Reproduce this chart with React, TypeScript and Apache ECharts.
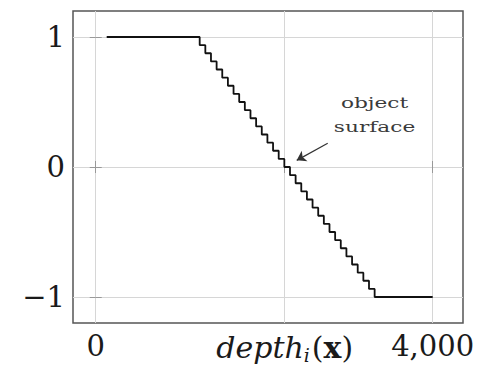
import React, { useEffect, useRef } from "react";
import * as echarts from "echarts";

// depth values (x) at which the truncated SDF steps down, plus start/end
const depthX = [
  130, 1234, 1301, 1368, 1435, 1502, 1569, 1636, 1703, 1770, 1837, 1904, 1971,
  2038, 2105, 2172, 2239, 2306, 2373, 2440, 2507, 2574, 2641, 2708, 2775, 2842,
  2909, 2976, 3043, 3110, 3177, 3244, 3311, 4000,
];
const sdfY = [
  1, 0.9375, 0.875, 0.8125, 0.75, 0.6875, 0.625, 0.5625, 0.5, 0.4375, 0.375,
  0.3125, 0.25, 0.1875, 0.125, 0.0625, 0, -0.0625, -0.125, -0.1875, -0.25,
  -0.3125, -0.375, -0.4375, -0.5, -0.5625, -0.625, -0.6875, -0.75, -0.8125,
  -0.875, -0.9375, -1, -1,
];
const xTicks = [0, 2243, 4000];
const yTicks = [-1, 0, 1];
const arrowFrom = [2754, 0.182];
const arrowTo = [2386, 0.051];
const annotationAt = [3310, 0.4];
const annotationText = "object\nsurface";

const SERIF = "DejaVu Serif";

export default function App() {
  const ref = useRef<HTMLDivElement>(null);
  useEffect(() => {
    document.body.style.margin = "0";
    const chart = echarts.init(ref.current!, null, { renderer: "svg" });
    const data = depthX.map((x, i) => [x, sdfY[i]]);
    const tickCommon = {
      show: true,
      inside: true,
      length: 6,
      lineStyle: { color: "#999", width: 1 },
    };
    const option: any = {
      animation: false,
      backgroundColor: "#fff",
      grid: {
        left: 73,
        right: 14,
        top: 11,
        bottom: 45,
        show: true,
        borderColor: "#555",
        borderWidth: 1.5,
        outerBoundsMode: "none",
        containLabel: false,
      },
      xAxis: [
        {
          type: "value",
          min: -270,
          max: 4360,
          axisLine: { show: false },
          axisTick: { ...tickCommon, customValues: xTicks },
          splitLine: { show: true, lineStyle: { color: "#d6d6d6", width: 1 } },
          axisLabel: {
            customValues: xTicks,
            margin: 8,
            color: "#1a1a1a",
            fontFamily: SERIF,
            fontSize: 29,
            formatter: (v: number) =>
              v === 0
                ? "0"
                : v === 4000
                ? "4,000"
                : "{it|depth}{sub|i}{p|(}{b|x}{p|)}",
            rich: {
              it: { fontFamily: SERIF, fontStyle: "italic", fontSize: 30, color: "#1a1a1a" },
              sub: {
                fontFamily: SERIF,
                fontStyle: "italic",
                fontSize: 19,
                color: "#1a1a1a",
                padding: [14, 2, 0, 0],
              },
              p: { fontFamily: SERIF, fontSize: 30, color: "#1a1a1a" },
              b: { fontFamily: SERIF, fontSize: 30, fontWeight: "bold", color: "#1a1a1a" },
            },
          },
        },
        {
          type: "value",
          position: "top",
          min: -270,
          max: 4360,
          axisLine: { show: false },
          axisTick: { ...tickCommon, customValues: xTicks },
          splitLine: { show: false },
          axisLabel: { show: false },
        },
      ],
      yAxis: [
        {
          type: "value",
          min: -1.2,
          max: 1.2,
          axisLine: { show: false },
          axisTick: { ...tickCommon, customValues: yTicks },
          splitLine: { show: true, lineStyle: { color: "#d6d6d6", width: 1 } },
          axisLabel: {
            customValues: yTicks,
            margin: 8,
            color: "#1a1a1a",
            fontFamily: SERIF,
            fontSize: 29,
            formatter: (v: number) => (v < 0 ? "\u2212" + Math.abs(v) : String(v)),
          },
        },
        {
          type: "value",
          position: "right",
          min: -1.2,
          max: 1.2,
          axisLine: { show: false },
          axisTick: { ...tickCommon, customValues: yTicks },
          splitLine: { show: false },
          axisLabel: { show: false },
        },
      ],
      series: [
        {
          type: "line",
          step: "end",
          data,
          showSymbol: false,
          symbol: "none",
          lineStyle: { color: "#111", width: 1.8 },
          markLine: {
            silent: true,
            symbol: ["none", "arrow"],
            symbolSize: 9,
            label: { show: false },
            lineStyle: { color: "#333", width: 1.2, type: "solid" },
            data: [
              [
                { coord: arrowFrom, symbol: "none" },
                { coord: arrowTo, symbol: "arrow" },
              ],
            ],
          },
        },
      ],
    };
    chart.setOption(option);
    const p = chart.convertToPixel({ gridIndex: 0 }, annotationAt) as number[];
    chart.setOption({
      graphic: [
        {
          type: "text",
          x: p[0],
          y: p[1],
          scaleX: 1.4,
          style: {
            text: annotationText,
            fontFamily: SERIF,
            fontSize: 15.5,
            lineHeight: 24,
            fill: "#3a3a3a",
            align: "center",
            verticalAlign: "middle",
          },
        },
      ],
    });
    return () => chart.dispose();
  }, []);
  return <div ref={ref} style={{ width: 477, height: 368 }} />;
}
